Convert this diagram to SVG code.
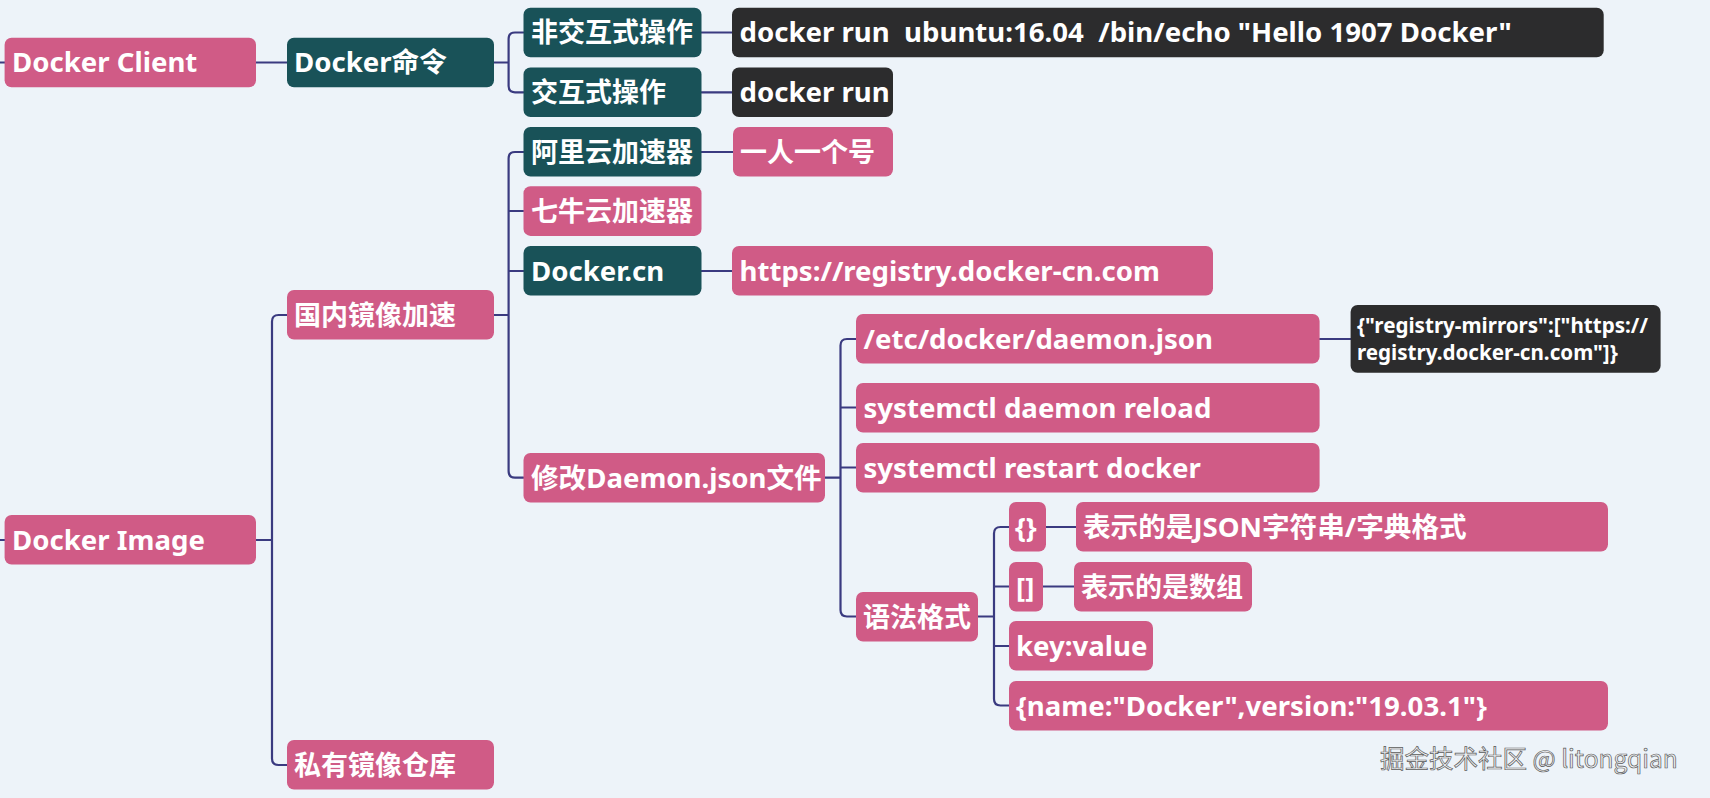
<svg xmlns="http://www.w3.org/2000/svg" width="1710" height="798" viewBox="0 0 1710 798">
<style>
.bg{fill:#edf3f9}
.pink{fill:#d05b86}
.teal{fill:#195258}
.dark{fill:#2c2c2d}
.t{font-family:"Noto Sans","Noto Sans CJK SC",sans-serif;font-weight:bold;font-size:27.6px;fill:#ffffff;white-space:pre}
.tc{font-family:"Noto Sans CJK SC","Noto Sans",sans-serif;font-weight:bold;font-size:27px;fill:#ffffff}
.ts{font-family:"Noto Sans","Noto Sans CJK SC",sans-serif;font-weight:bold;font-size:20.6px;fill:#ffffff}
.wm{font-family:"Noto Sans CJK SC","Noto Sans",sans-serif;font-size:24.5px;fill:#eef0f2;stroke:#5a5a5a;stroke-width:0.7}
.c{fill:none;stroke:#3a3a80;stroke-width:2.2;stroke-linecap:round;stroke-linejoin:round}
</style>
<rect class="bg" x="0" y="0" width="1710" height="798"/>
<g id="connectors">
<path class="c" d="M0,62.5 H5 M0,540 H5"/>
<path class="c" d="M256,62.5 H287"/>
<path class="c" d="M494,62.5 H508.6 M523.5,32.5 H515 Q508.6,32.5 508.6,39 V86 Q508.6,92.3 515,92.3 H523.5"/>
<path class="c" d="M701.5,32.5 H732 M701.5,92.3 H732 M701.5,152 H733 M701.5,271 H732"/>
<path class="c" d="M256,540 H272 M287,315 H278.5 Q272,315 272,321.5 V758.5 Q272,765 278.5,765 H287"/>
<path class="c" d="M494,315 H508.6 M523.5,152 H515 Q508.6,152 508.6,158.5 V471 Q508.6,477.7 515,477.7 H523.5 M508.6,211 H523.5 M508.6,271 H523.5"/>
<path class="c" d="M825,477.7 H840.5 M856,339 H847 Q840.5,339 840.5,345.5 V610 Q840.5,616.5 847,616.5 H856 M840.5,407.5 H856 M840.5,467.5 H856"/>
<path class="c" d="M1319.6,339 H1350.6"/>
<path class="c" d="M978,616.5 H994 M1009,527 H1000.5 Q994,527 994,533.5 V699 Q994,705.5 1000.5,705.5 H1009 M994,586.5 H1009 M994,646 H1009"/>
<path class="c" d="M1046,527 H1076 M1043,586.5 H1074"/>
</g>
<g id="docker-client"><rect class="pink" x="4.6" y="37.7" width="251.4" height="49.6" rx="7"/><text class="t" x="12" y="72">Docker Client</text></g>
<g id="docker-cmd"><rect class="teal" x="287" y="37.7" width="207" height="49.6" rx="7"/><text class="t" x="294" y="72">Docker命令</text></g>
<g id="non-interactive"><rect class="teal" x="523.5" y="7.7" width="178" height="49.6" rx="7"/><text class="tc" x="531" y="42">非交互式操作</text></g>
<g id="interactive"><rect class="teal" x="523.5" y="67.5" width="178" height="49.6" rx="7"/><text class="tc" x="531" y="102">交互式操作</text></g>
<g id="cmd-echo"><rect class="dark" x="732" y="7.7" width="871.7" height="49.6" rx="7"/><text class="t" x="739.5" y="42" xml:space="preserve">docker run  ubuntu:16.04  /bin/echo "Hello 1907 Docker"</text></g>
<g id="cmd-run"><rect class="dark" x="732" y="67.5" width="161" height="49.6" rx="7"/><text class="t" x="739.5" y="102">docker run</text></g>
<g id="aliyun"><rect class="teal" x="523.5" y="127" width="178" height="49.6" rx="7"/><text class="tc" x="531" y="161.5">阿里云加速器</text></g>
<g id="one-account"><rect class="pink" x="733" y="127" width="160" height="49.6" rx="7"/><text class="tc" x="740" y="161.5">一人一个号</text></g>
<g id="qiniu"><rect class="pink" x="523.5" y="186.3" width="178" height="49.6" rx="7"/><text class="tc" x="531" y="220.7">七牛云加速器</text></g>
<g id="docker-cn"><rect class="teal" x="523.5" y="246" width="178" height="49.6" rx="7"/><text class="t" x="531" y="280.5">Docker.cn</text></g>
<g id="registry-url"><rect class="pink" x="732" y="246" width="481" height="49.6" rx="7"/><text class="t" x="739.5" y="280.5">https://registry.docker-cn.com</text></g>
<g id="mirror-accel"><rect class="pink" x="287" y="290" width="207" height="49.6" rx="7"/><text class="tc" x="294" y="324.5">国内镜像加速</text></g>
<g id="daemon-path"><rect class="pink" x="856" y="314" width="463.6" height="49.6" rx="7"/><text class="t" x="863.5" y="348.5">/etc/docker/daemon.json</text></g>
<g id="daemon-json"><rect class="dark" x="1350.6" y="305" width="310" height="67.7" rx="7"/><text class="ts" x="1357" y="333">{"registry-mirrors":["https://</text><text class="ts" x="1357" y="360">registry.docker-cn.com"]}</text></g>
<g id="daemon-reload"><rect class="pink" x="856" y="383" width="463.6" height="49.6" rx="7"/><text class="t" x="863.5" y="417.5">systemctl daemon reload</text></g>
<g id="restart"><rect class="pink" x="856" y="443" width="463.6" height="49.6" rx="7"/><text class="t" x="863.5" y="477.5">systemctl restart docker</text></g>
<g id="edit-daemon"><rect class="pink" x="523.5" y="453" width="301.5" height="49.6" rx="7"/><text class="t" x="531" y="487.5">修改Daemon.json文件</text></g>
<g id="docker-image"><rect class="pink" x="4.6" y="515" width="251.4" height="49.6" rx="7"/><text class="t" x="12" y="549.5">Docker Image</text></g>
<g id="braces"><rect class="pink" x="1009" y="502" width="37" height="49.6" rx="7"/><text class="t" x="1015" y="536.5">{}</text></g>
<g id="braces-desc"><rect class="pink" x="1076" y="502" width="532" height="49.6" rx="7"/><text class="t" x="1083" y="536.5">表示的是JSON字符串/字典格式</text></g>
<g id="brackets"><rect class="pink" x="1009" y="562" width="34" height="49.6" rx="7"/><text class="t" x="1016" y="596.5">[]</text></g>
<g id="brackets-desc"><rect class="pink" x="1074" y="562" width="178" height="49.6" rx="7"/><text class="tc" x="1081" y="596.5">表示的是数组</text></g>
<g id="syntax"><rect class="pink" x="856" y="592" width="122" height="49.6" rx="7"/><text class="tc" x="863" y="626.5">语法格式</text></g>
<g id="keyvalue"><rect class="pink" x="1009" y="621" width="144" height="49.6" rx="7"/><text class="t" x="1016" y="655.5">key:value</text></g>
<g id="example"><rect class="pink" x="1009" y="681" width="599" height="49.6" rx="7"/><text class="t" x="1016" y="715.5">{name:"Docker",version:"19.03.1"}</text></g>
<g id="private-repo"><rect class="pink" x="287" y="740" width="207" height="49.6" rx="7"/><text class="tc" x="294" y="774.5">私有镜像仓库</text></g>
<text class="wm" x="1380" y="768">掘金技术社区 @ litongqian</text>
</svg>
